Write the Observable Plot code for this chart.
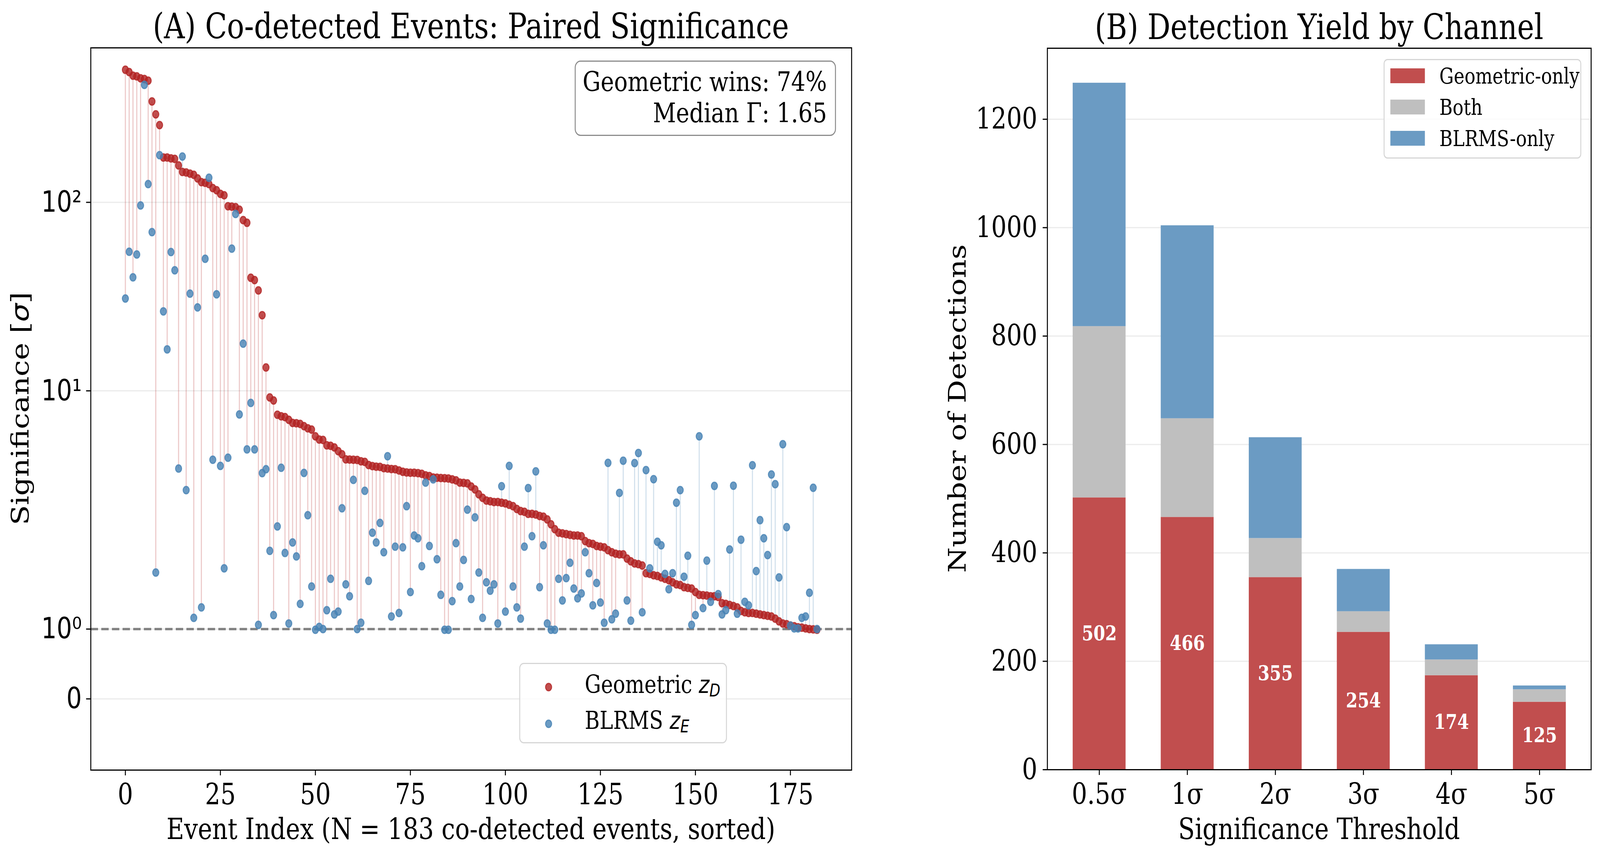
<!DOCTYPE html>
<html>
<head>
<meta charset="utf-8">
<script src="https://cdn.jsdelivr.net/npm/d3@7"></script>
<script src="https://cdn.jsdelivr.net/npm/@observablehq/plot@0.6"></script>
<style>
  html, body { margin: 0; padding: 0; background: #fff; overflow: hidden; }
  #root { position: absolute; left: 0; top: 0; width: 4961px; height: 2194px; background: #fff; overflow: hidden;
          font-family: "DejaVu Serif"; color: #000; transform-origin: 0 0; }
  .abs { position: absolute; white-space: nowrap; line-height: 1; }
  .math { font-family: "DejaVu Sans"; font-style: italic; }
  .sub { font-family: "DejaVu Sans"; font-style: italic; font-size: 0.7em; position: relative; top: 0.22em; }
</style>
</head>
<body>
<div id="root"></div>
<script>
// ---------------- DATA ----------------
// Panel A: co-detected events sorted by geometric significance
const eventIndex = d3.range(183);
const zD = [505,491,470,466,455,451,442,343,293,257,173,173,171,170,157,145,144,142,140,134,
  128,127,125,119,116,111,109,95.4,94.9,94.3,91.4,80.5,77.9,39.8,38.7,34.1,25.2,13.3,9.23,8.89,
  7.47,7.33,7.26,7.02,6.76,6.73,6.68,6.50,6.33,6.23,5.74,5.52,5.49,5.14,5.11,5.01,4.79,4.61,4.33,4.32,
  4.31,4.30,4.23,4.20,4.04,3.99,3.96,3.95,3.89,3.87,3.85,3.84,3.78,3.72,3.69,3.68,3.68,3.66,3.63,3.56,
  3.53,3.47,3.46,3.45,3.44,3.43,3.39,3.35,3.26,3.25,3.23,3.11,3.00,2.93,2.88,2.84,2.83,2.82,2.82,2.81,
  2.80,2.78,2.76,2.72,2.69,2.68,2.65,2.65,2.64,2.62,2.61,2.57,2.50,2.43,2.38,2.37,2.36,2.35,2.34,2.34,
  2.33,2.26,2.23,2.22,2.19,2.18,2.17,2.13,2.10,2.08,2.07,2.07,2.01,1.97,1.94,1.93,1.91,1.80,1.79,1.77,
  1.76,1.74,1.72,1.70,1.67,1.64,1.63,1.60,1.59,1.58,1.53,1.49,1.485,1.48,1.47,1.47,1.46,1.37,1.36,1.345,
  1.33,1.31,1.26,1.24,1.23,1.23,1.22,1.21,1.20,1.19,1.18,1.15,1.11,1.08,1.07,1.05,1.04,1.025,1.02,1.01,
  1.00,0.995,0.99];
const zE = [30.9,54.7,40.0,52.9,96.3,420,125,69.5,1.81,178,26.4,16.6,54.5,43.6,3.87,175,2.99,32.8,1.16,27.7,
  1.31,50.2,135,4.31,32.5,4.0,1.87,4.42,56.8,86.8,7.50,17.8,4.89,8.63,4.89,1.06,3.66,3.84,2.12,1.20,
  2.47,3.91,2.09,1.08,2.24,2.04,1.36,3.67,2.63,1.61,0.99,1.03,1.0,1.27,1.72,1.21,1.25,2.73,1.64,1.47,
  3.37,1.0,1.09,2.98,1.69,2.38,2.24,2.52,2.10,4.50,1.18,2.18,1.23,2.17,2.76,1.53,2.34,2.30,1.90,3.26,
  2.19,3.39,2.0,1.49,0.99,0.99,1.40,2.23,1.61,1.99,2.71,1.43,2.60,1.81,1.16,1.67,1.55,1.64,1.08,3.12,
  1.25,4.00,1.61,1.31,1.15,2.18,3.05,2.33,3.74,1.60,2.20,1.08,0.99,0.99,1.72,1.41,1.73,1.95,1.58,1.44,
  1.51,2.10,1.80,1.34,1.66,1.38,1.09,4.15,1.14,1.22,2.95,4.26,1.41,1.12,4.14,4.68,1.24,3.80,1.87,3.40,
  2.25,2.20,1.79,1.57,1.80,2.81,2.99,1.75,2.05,1.06,1.20,5.74,1.30,1.98,1.39,3.13,1.50,1.21,1.27,2.14,
  3.14,1.22,2.28,1.39,1.34,4.03,1.83,2.56,2.30,2.06,3.60,3.20,1.74,5.21,2.46,1.05,1.01,1.01,1.16,1.18,
  1.52,3.06,1.0];
const xTicks = [0, 25, 50, 75, 100, 125, 150, 175];
const yTickValues = [0, 1, 10, 100];
const yTickLabels = ["0", "10\u2070", "10\u00b9", "10\u00b2"];
const yLimits = [-1.02, 660];
const xLimits = [-9.1, 191.1];

// Panel B: detection yield by channel
const thresholds = ["0.5\u03c3", "1\u03c3", "2\u03c3", "3\u03c3", "4\u03c3", "5\u03c3"];
const geomOnly  = [502, 466, 355, 254, 174, 125];
const bothCh    = [316, 182, 72, 38, 29, 23];
const blrmsOnly = [449, 356, 186, 78, 28, 7];
const channels = ["Geometric-only", "Both", "BLRMS-only"];
const yTicksB = [0, 200, 400, 600, 800, 1000, 1200];

// ---------------- STYLE ----------------
const RED = "#b22222", BLUE = "#4682b4";
const RED_A = "#c14e4e", GRAY_A = "#bfbfbf", BLUE_A = "#6b9bc3";
const GRID = "#ebebeb";

// matplotlib-style symlog (linthresh 3, linscale 1)
const LT = 3, LS = 1 / (1 - 1 / 10);
const sym = v => Math.abs(v) <= LT ? v * LS : Math.sign(v) * LT * (LS + Math.log10(Math.abs(v) / LT));

const events = eventIndex.map(i => ({i, zD: zD[i], zE: zE[i]}));
const yLabelMap = new Map(yTickValues.map((v, k) => [sym(v), yTickLabels[k]]));

const root = document.getElementById("root");
// fit the 4961x2194 design canvas to the actual viewport
const SX = (window.innerWidth > 0) ? window.innerWidth / 4961 : 1;
const SY = (window.innerHeight > 0) ? window.innerHeight / 2194 : 1;
root.style.transform = `scale(${SX}, ${SY})`;

// ---------------- PANEL A ----------------
const plotA = Plot.plot({
  width: 2700, height: 2194,
  marginLeft: 281, marginRight: 60, marginTop: 122, marginBottom: 223,
  style: {fontFamily: "DejaVu Serif", background: "transparent", color: "black", maxWidth: "none"},
  x: {domain: xLimits},
  y: {domain: yLimits.map(sym)},
  marks: [
    Plot.ruleY(yTickValues.map(sym), {stroke: GRID, strokeWidth: 3}),
    Plot.ruleY([sym(1)], {stroke: "#808080", strokeWidth: 6, strokeDasharray: "23,10"}),
    Plot.ruleX(events.filter(d => d.zD >= d.zE), {x: "i", y1: d => sym(d.zD), y2: d => sym(d.zE), stroke: RED, strokeOpacity: 0.25, strokeWidth: 3.3}),
    Plot.ruleX(events.filter(d => d.zD < d.zE), {x: "i", y1: d => sym(d.zD), y2: d => sym(d.zE), stroke: BLUE, strokeOpacity: 0.25, strokeWidth: 3.3}),
    Plot.dot(events, {x: "i", y: d => sym(d.zD), r: 9.5, fill: RED, fillOpacity: 0.8, stroke: RED, strokeOpacity: 0.8, strokeWidth: 3}),
    Plot.dot(events, {x: "i", y: d => sym(d.zE), r: 9.5, fill: BLUE, fillOpacity: 0.8, stroke: BLUE, strokeOpacity: 0.8, strokeWidth: 3}),
    Plot.axisX(xTicks, {tickSize: 14, tickPadding: 20, strokeWidth: 3, fontSize: 75, label: null, tickFormat: d => String(d)}),
    Plot.axisY(yTickValues.map(sym), {tickSize: 14, tickPadding: 14, strokeWidth: 3, fontSize: 75, fontFamily: "DejaVu Sans", label: null, tickFormat: d => yLabelMap.get(d)}),
    Plot.frame({stroke: "black", strokeWidth: 3})
  ]
});
plotA.style.position = "absolute"; plotA.style.left = "0px"; plotA.style.top = "0px";
root.appendChild(plotA);

// ---------------- PANEL B ----------------
const barData = [];
thresholds.forEach((t, k) => {
  barData.push({t, ch: channels[0], v: geomOnly[k]});
  barData.push({t, ch: channels[1], v: bothCh[k]});
  barData.push({t, ch: channels[2], v: blrmsOnly[k]});
});
const geomData = thresholds.map((t, k) => ({t, v: geomOnly[k]}));

const plotB = Plot.plot({
  width: 2061, height: 2194,
  marginLeft: 347, marginRight: 28, marginTop: 123, marginBottom: 224,
  style: {fontFamily: "DejaVu Serif", background: "transparent", color: "black", maxWidth: "none"},
  x: {type: "band", domain: thresholds, paddingInner: 0.4, paddingOuter: 0.28},
  y: {domain: [0, 1331]},
  color: {domain: channels, range: [RED_A, GRAY_A, BLUE_A]},
  marks: [
    Plot.ruleY(yTicksB.slice(1), {stroke: GRID, strokeWidth: 3}),
    Plot.barY(barData, {x: "t", y: "v", fill: "ch", inset: 0}),
    Plot.text(geomData, {x: "t", y: d => d.v / 2, text: d => String(d.v), fill: "white", fontWeight: "bold", fontSize: 52}),
    Plot.axisX({tickSize: 14, tickPadding: 20, strokeWidth: 3, fontSize: 75, label: null}),
    Plot.axisY(yTicksB, {tickSize: 14, tickPadding: 17, strokeWidth: 3, fontSize: 75, label: null, tickFormat: d => String(d)}),
    Plot.frame({stroke: "black", strokeWidth: 3})
  ]
});
plotB.style.position = "absolute"; plotB.style.left = "2900px"; plotB.style.top = "0px";
root.appendChild(plotB);

// ---------------- TEXT / LEGENDS (HTML) ----------------
function addDiv(html, css) {
  const d = document.createElement("div");
  d.className = "abs";
  d.innerHTML = html;
  Object.assign(d.style, css);
  root.appendChild(d);
  return d;
}
const asc = 0.846; // baseline offset (em) for line-height 1

// Titles
addDiv("(A) Co-detected Events: Paired Significance", {left: "1460px", top: (98 - asc * 89) + "px", fontSize: "89px", transform: "translateX(-50%)"});
addDiv("(B) Detection Yield by Channel", {left: "4090px", top: (100 - asc * 89) + "px", fontSize: "89px", transform: "translateX(-50%)"});

// Axis labels
addDiv("Event Index (N = 183 co-detected events, sorted)", {left: "1460px", top: (2148 - asc * 75) + "px", fontSize: "75px", transform: "translateX(-50%)"});
addDiv("Significance Threshold", {left: "4090px", top: (2148 - asc * 75) + "px", fontSize: "75px", transform: "translateX(-50%)"});
addDiv('Significance [<span class="math">\u03c3</span>]', {left: "63px", top: "1046px", fontSize: "75px", transform: "translate(-50%,-50%) rotate(-90deg)"});
addDiv("Number of Detections", {left: "2969px", top: "1046px", fontSize: "75px", transform: "translate(-50%,-50%) rotate(-90deg)"});

// Annotation box (panel A)
const ann = addDiv("", {left: "1782px", top: "155px", width: "810px", height: "193px", boxSizing: "border-box",
  border: "3px solid #8c8c8c", borderRadius: "18px", background: "white"});
const annText = document.createElement("div");
Object.assign(annText.style, {position: "absolute", right: "25px", top: "11px", fontSize: "70px", lineHeight: "80px", textAlign: "right", whiteSpace: "nowrap"});
annText.innerHTML = "Geometric wins: 74%<br>Median \u0393: 1.65";
ann.appendChild(annText);

// Legend panel A
const legA = addDiv("", {left: "1610px", top: "1697px", width: "644px", height: "206px", boxSizing: "border-box",
  border: "3px solid #d6d6d6", borderRadius: "14px", background: "rgba(255,255,255,0.8)"});
const legAItems = [
  {color: RED, html: 'Geometric <span class="math">z</span><span class="sub">D</span>', cy: 59, base: 74},
  {color: BLUE, html: 'BLRMS <span class="math">z</span><span class="sub">E</span>', cy: 153, base: 166}
];
legAItems.forEach(it => {
  const m = document.createElement("div");
  Object.assign(m.style, {position: "absolute", left: (88 - 14) + "px", top: (it.cy - 14) + "px", width: "28px", height: "28px"});
  m.innerHTML = `<svg width="28" height="28"><circle cx="14" cy="14" r="9.5" fill="${it.color}" fill-opacity="0.8" stroke="${it.color}" stroke-opacity="0.8" stroke-width="3"/></svg>`;
  legA.appendChild(m);
  const t = document.createElement("div");
  Object.assign(t.style, {position: "absolute", left: "200px", top: (it.base - asc * 63) + "px", fontSize: "63px", lineHeight: "1", whiteSpace: "nowrap"});
  t.innerHTML = it.html;
  legA.appendChild(t);
});

// Legend panel B
const legB = addDiv("", {left: "4290px", top: "151px", width: "613px", height: "255px", boxSizing: "border-box",
  border: "3px solid #d6d6d6", borderRadius: "12px", background: "rgba(255,255,255,0.8)"});
const legBColors = [RED_A, GRAY_A, BLUE_A];
channels.forEach((c, k) => {
  const p = document.createElement("div");
  Object.assign(p.style, {position: "absolute", left: "18px", top: (21 + k * 80) + "px", width: "107px", height: "38px", background: legBColors[k]});
  legB.appendChild(p);
  const t = document.createElement("div");
  Object.assign(t.style, {position: "absolute", left: "170px", top: (60 + k * 80 - asc * 56) + "px", fontSize: "56px", lineHeight: "1", whiteSpace: "nowrap"});
  t.textContent = c;
  legB.appendChild(t);
});
</script>
</body>
</html>
